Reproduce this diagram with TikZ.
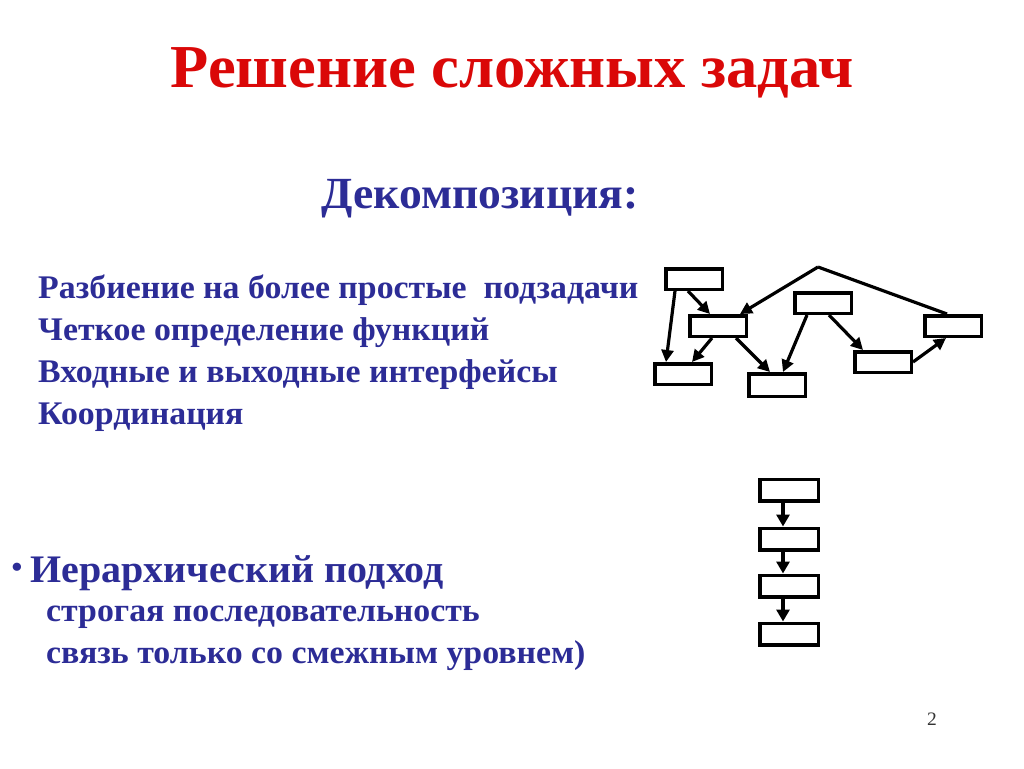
\documentclass[tikz,border=0pt]{standalone}
\usepackage{fontspec}
\setmainfont[FakeStretch=1.025]{Liberation Serif}
\usetikzlibrary{arrows.meta}
\definecolor{titlered}{RGB}{218,8,8}
\definecolor{navy}{RGB}{44,44,150}

\begin{document}
\begin{tikzpicture}[x=1pt,y=-1pt]
      \tikzset{blk/.style={draw, line width=3.5pt, minimum width=56.5pt, minimum height=20.5pt, inner sep=0pt}}
      \tikzset{arr/.style={line width=3.2pt, -{Triangle[length=12pt,width=12pt]}}}
      \tikzset{txt/.style={text=navy, font=\bfseries\fontsize{33}{36}\selectfont, anchor=base west, inner sep=0pt}}
      \useasboundingbox (0,0) rectangle (1024,768);
      % headings
      \node[text=titlered, font=\bfseries\fontsize{61}{66}\selectfont, anchor=base, inner sep=0pt] (title) at (512,87) {Решение сложных задач};
      \node[text=navy, font=\bfseries\fontsize{44.5}{48}\selectfont, anchor=base, inner sep=0pt] (decomp) at (480,208) {Декомпозиция:};
      \node[txt] (l1) at (38,298) {Разбиение на более простые \ подзадачи};
      \node[txt] (l2) at (38,340) {Четкое определение функций};
      \node[txt] (l3) at (38,382) {Входные и выходные интерфейсы};
      \node[txt] (l4) at (38,424) {Координация};
      \node[text=navy, font=\fontsize{34}{36}\selectfont, anchor=base, inner sep=0pt] (dot) at (17,578) {\textbullet};
      \node[txt, font=\bfseries\fontsize{39}{42}\selectfont] (hier) at (30,582) {Иерархический подход};
      \node[txt] (h1) at (46,621) {строгая последовательность};
      \node[txt] (h2) at (46,663) {связь только со смежным уровнем)};
      \node[text=black!80, font=\fontsize{19}{21}\selectfont, anchor=base, inner sep=0pt] (page) at (932,725) {2};
      % network of subtasks
      \node[blk] (A) at (694,279) {};
      \node[blk] (B) at (718,326) {};
      \node[blk] (C) at (683,374) {};
      \node[blk] (D) at (823,303) {};
      \node[blk, minimum height=22.5pt] (E) at (777,385) {};
      \node[blk] (F) at (883,362) {};
      \node[blk] (G) at (953,326) {};
      \coordinate (top) at (818,267);
      \draw[arr] ([xshift=-19pt]A.south) -- ([xshift=-17pt]C.north);
      \draw[arr] ([xshift=-6pt]A.south) -- ([xshift=-8pt]B.north);
      \draw[arr] (top) -- ([xshift=22pt]B.north);
      \draw[line width=3.2pt] (top) -- ([xshift=-6pt]G.north);
      \draw[arr] ([xshift=-6pt]B.south) -- ([xshift=9pt]C.north);
      \draw[arr] ([xshift=18pt]B.south) -- ([xshift=-7pt]E.north);
      \draw[arr] ([xshift=-16pt]D.south) -- ([xshift=6pt]E.north);
      \draw[arr] ([xshift=6pt]D.south) -- ([xshift=-20pt]F.north);
      \draw[arr] (F.east) -- ([xshift=-7pt]G.south);
      % hierarchy
      \foreach \i/\y in {1/490, 2/539, 3/586, 4/634}
        \node[blk, minimum width=58.5pt, minimum height=21.5pt] (V\i) at (789,\y) {};
      \foreach \i/\j in {1/2, 2/3, 3/4}
        \draw[arr, -{Triangle[length=12pt,width=13pt]}] ([xshift=-6pt]V\i.south) -- ([xshift=-6pt]V\j.north);
\end{tikzpicture}
\end{document}
